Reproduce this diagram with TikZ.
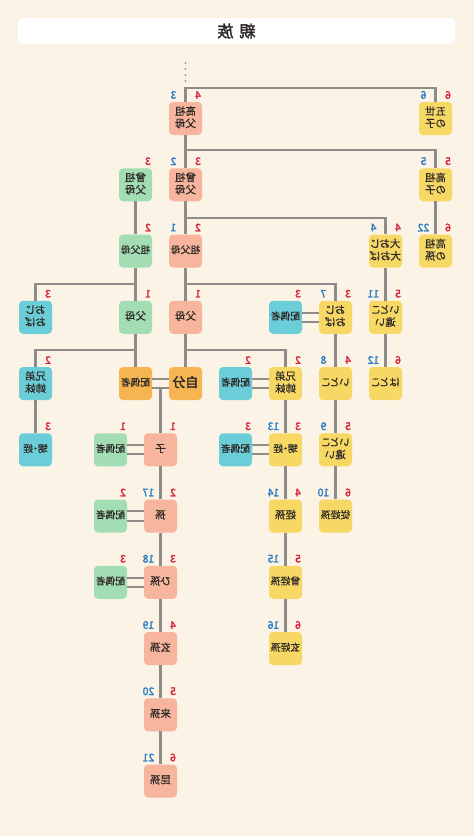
\documentclass[tikz,border=0pt]{standalone}
\usepackage{fontspec}
\usepackage{graphicx}
\newfontfamily\jp{Noto Sans CJK JP}[FakeBold=0.5,RawFeature=+palt]
\newfontfamily\jpb{Noto Sans CJK JP}[FakeBold=2.2]
\definecolor{bgc}{HTML}{FAF3E6}
\definecolor{pinkc}{HTML}{F6B59C}
\definecolor{greenc}{HTML}{A3DDB3}
\definecolor{yellowc}{HTML}{F8D865}
\definecolor{cyanc}{HTML}{6BCDD8}
\definecolor{orangec}{HTML}{F7B552}
\definecolor{linec}{HTML}{8E8C89}
\definecolor{redc}{HTML}{D9233A}
\definecolor{bluec}{HTML}{2D7DC6}
\definecolor{textc}{HTML}{2E2A28}
\newcommand\rt[1]{\reflectbox{\begin{tabular}{@{}c@{}}#1\end{tabular}}}
\newcommand\bnum[2]{\node[bl] (#1-b) at ([xshift=-12pt,yshift=23.5pt]#1.center) {\reflectbox{#2}};}
\newcommand\rnum[2]{\node[rd] (#1-r) at ([xshift=12.5pt,yshift=23.5pt]#1.center) {\reflectbox{#2}};}
\newcommand\couple[2]{%
  \draw[dl] ([yshift=4.6pt]#1.east) -- ([yshift=4.6pt]#2.west);
  \draw[dl] ([yshift=-4.6pt]#1.east) -- ([yshift=-4.6pt]#2.west);}
\tikzset{
  box/.style={rounded corners=4pt, minimum width=33pt, minimum height=33pt, inner sep=0pt,
    font=\jp\fontsize{10.5}{12}\selectfont, text=textc},
  sm/.style={font=\jp\fontsize{9.8}{12}\selectfont},
  pk/.style={box, fill=pinkc},
  gr/.style={box, fill=greenc},
  ye/.style={box, fill=yellowc},
  cy/.style={box, fill=cyanc},
  orb/.style={box, fill=orangec},
  ln/.style={draw=linec, line width=2.4pt},
  dl/.style={draw=linec, line width=2pt},
  bl/.style={text=bluec, inner sep=0pt, font=\jpb\fontsize{10.5}{10.5}\selectfont},
  rd/.style={text=redc, inner sep=0pt, font=\jpb\fontsize{10.5}{10.5}\selectfont},
}
\begin{document}
\begin{tikzpicture}[x=1pt,y=-1pt]
\fill[bgc] (0,0) rectangle (474,836);
\useasboundingbox (0,0) rectangle (474,836);
\node[fill=white, rounded corners=5pt, minimum width=437pt, minimum height=26pt, inner sep=0pt,
  font=\jpb\fontsize{16}{16}\selectfont, text=textc] (title) at (236.5,31) {\reflectbox{親\hspace{6pt}族}};

% row 1
\node[pk] (A1) at (185.5,118.5) {\rt{高祖\\父母}};
\node[ye] (A2) at (435.5,118.5) {\rt{五世\\の子}};
% row 2
\node[gr] (B1) at (135.5,184.75) {\rt{曾祖\\父母}};
\node[pk] (B2) at (185.5,184.75) {\rt{曾祖\\父母}};
\node[ye] (B3) at (435.5,184.75) {\rt{高祖\\の子}};
% row 3
\node[gr, sm] (C1) at (135.5,251) {\rt{祖父母}};
\node[pk, sm] (C2) at (185.5,251) {\rt{祖父母}};
\node[ye] (C3) at (385.5,251) {\rt{大おじ\\大おば}};
\node[ye] (C4) at (435.5,251) {\rt{高祖\\の孫}};
% row 4
\node[cy] (D1) at (35.5,317.25) {\rt{おじ\\おば}};
\node[gr] (D2) at (135.5,317.25) {\rt{父母}};
\node[pk] (D3) at (185.5,317.25) {\rt{父母}};
\node[cy, sm] (D4) at (285.5,317.25) {\rt{配偶者}};
\node[ye] (D5) at (335.5,317.25) {\rt{おじ\\おば}};
\node[ye] (D6) at (385.5,317.25) {\rt{いとこ\\違い}};
% row 5
\node[cy] (E1) at (35.5,383.5) {\rt{兄弟\\姉妹}};
\node[orb, sm] (E2) at (135.5,383.5) {\rt{配偶者}};
\node[orb, font=\jpb\fontsize{13}{13}\selectfont] (E3) at (185.5,383.5) {\rt{自分}};
\node[cy, sm] (E4) at (235.5,383.5) {\rt{配偶者}};
\node[ye] (E5) at (285.5,383.5) {\rt{兄弟\\姉妹}};
\node[ye] (E6) at (335.5,383.5) {\rt{いとこ}};
\node[ye] (E7) at (385.5,383.5) {\rt{はとこ}};
% row 6
\node[cy, sm] (F1) at (35.5,449.75) {\rt{甥・姪}};
\node[gr, sm] (F2) at (110.5,449.75) {\rt{配偶者}};
\node[pk] (F3) at (160.5,449.75) {\rt{子}};
\node[cy, sm] (F4) at (235.5,449.75) {\rt{配偶者}};
\node[ye, sm] (F5) at (285.5,449.75) {\rt{甥・姪}};
\node[ye] (F6) at (335.5,449.75) {\rt{いとこ\\違い}};
% row 7
\node[gr, sm] (G1) at (110.5,516) {\rt{配偶者}};
\node[pk] (G2) at (160.5,516) {\rt{孫}};
\node[ye] (G3) at (285.5,516) {\rt{姪孫}};
\node[ye, sm] (G4) at (335.5,516) {\rt{従姪孫}};
% row 8
\node[gr, sm] (H1) at (110.5,582.25) {\rt{配偶者}};
\node[pk] (H2) at (160.5,582.25) {\rt{ひ孫}};
\node[ye, sm] (H3) at (285.5,582.25) {\rt{曾姪孫}};
% row 9-11
\node[pk] (I1) at (160.5,648.5) {\rt{玄孫}};
\node[ye, sm] (I2) at (285.5,648.5) {\rt{玄姪孫}};
\node[pk] (J1) at (160.5,714.75) {\rt{来孫}};
\node[pk] (K1) at (160.5,781) {\rt{昆孫}};

% junction coordinates
\coordinate (t0a) at (185.5,63);
\coordinate (t0b) at (185.5,85);
\coordinate (t1) at (185.5,88);
\coordinate (t2) at (185.5,150);
\coordinate (t3) at (185.5,218);
\coordinate (t4a) at (135.5,284);
\coordinate (t4b) at (185.5,284);
\coordinate (t5a) at (135.5,350);
\coordinate (t5b) at (185.5,350);
\coordinate (m) at (160.5,388.1);

% connectors
\draw[draw=linec, line width=2pt, line cap=round, dash pattern=on 0pt off 6pt] (t0a) -- (t0b);
\draw[ln] (A1.north) -- (t1) -| (A2.north);
\draw[ln] (A1.south) -- (B2.north);
\draw[ln] (t2) -| (B3.north);
\draw[ln] (B3.south) -- (C4.north);
\draw[ln] (B1.south) -- (C1.north);
\draw[ln] (B2.south) -- (C2.north);
\draw[ln] (t3) -| (C3.north);
\draw[ln] (C1.south) -- (D2.north);
\draw[ln] (t4a) -| (D1.north);
\draw[ln] (C2.south) -- (D3.north);
\draw[ln] (t4b) -| (D5.north);
\draw[ln] (C3.south) -- (D6.north);
\draw[ln] (D6.south) -- (E7.north);
\draw[ln] (D5.south) -- (E6.north);
\draw[ln] (E6.south) -- (F6.north);
\draw[ln] (F6.south) -- (G4.north);
\draw[ln] (D2.south) -- (E2.north);
\draw[ln] (t5a) -| (E1.north);
\draw[ln] (E1.south) -- (F1.north);
\draw[ln] (D3.south) -- (E3.north);
\draw[ln] (t5b) -| (E5.north);
\draw[ln] (E5.south) -- (F5.north);
\draw[ln] (F5.south) -- (G3.north);
\draw[ln] (G3.south) -- (H3.north);
\draw[ln] (H3.south) -- (I2.north);
\draw[ln] (m) -- (F3.north);
\draw[ln] (F3.south) -- (G2.north);
\draw[ln] (G2.south) -- (H2.north);
\draw[ln] (H2.south) -- (I1.north);
\draw[ln] (I1.south) -- (J1.north);
\draw[ln] (J1.south) -- (K1.north);
\couple{D4}{D5}
\couple{E2}{E3}
\couple{E4}{E5}
\couple{F2}{F3}
\couple{F4}{F5}
\couple{G1}{G2}
\couple{H1}{H2}

% numbers
\bnum{A1}{3}\rnum{A1}{4}
\bnum{A2}{6}\rnum{A2}{6}
\rnum{B1}{3}
\bnum{B2}{2}\rnum{B2}{3}
\bnum{B3}{5}\rnum{B3}{5}
\rnum{C1}{2}
\bnum{C2}{1}\rnum{C2}{2}
\bnum{C3}{4}\rnum{C3}{4}
\bnum{C4}{22}\rnum{C4}{6}
\rnum{D1}{3}
\rnum{D2}{1}
\rnum{D3}{1}
\rnum{D4}{3}
\bnum{D5}{7}\rnum{D5}{3}
\bnum{D6}{11}\rnum{D6}{5}
\rnum{E1}{2}
\rnum{E4}{2}
\rnum{E5}{2}
\bnum{E6}{8}\rnum{E6}{4}
\bnum{E7}{12}\rnum{E7}{6}
\rnum{F1}{3}
\rnum{F2}{1}
\rnum{F3}{1}
\rnum{F4}{3}
\bnum{F5}{13}\rnum{F5}{3}
\bnum{F6}{9}\rnum{F6}{5}
\rnum{G1}{2}
\bnum{G2}{17}\rnum{G2}{2}
\bnum{G3}{14}\rnum{G3}{4}
\bnum{G4}{10}\rnum{G4}{6}
\rnum{H1}{3}
\bnum{H2}{18}\rnum{H2}{3}
\bnum{H3}{15}\rnum{H3}{5}
\bnum{I1}{19}\rnum{I1}{4}
\bnum{I2}{16}\rnum{I2}{6}
\bnum{J1}{20}\rnum{J1}{5}
\bnum{K1}{21}\rnum{K1}{6}
\end{tikzpicture}
\end{document}
